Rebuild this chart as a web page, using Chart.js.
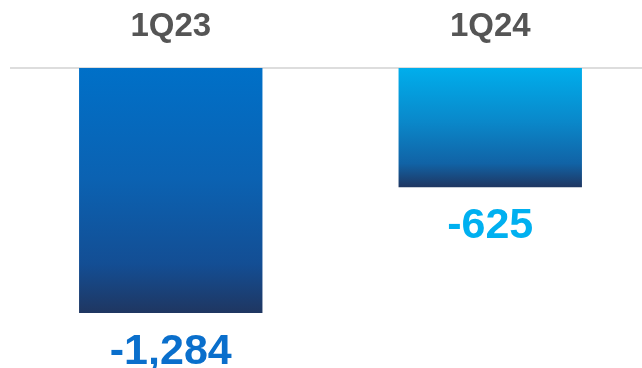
<!DOCTYPE html>
<html>
<head>
<meta charset="utf-8">
<script src="https://cdn.jsdelivr.net/npm/chart.js@4"></script>
<style>
  html, body { margin: 0; padding: 0; background: #fff; overflow: hidden; }
  #wrap { width: 650px; height: 368px; }
</style>
</head>
<body>
<div id="wrap"><canvas id="chart" width="650" height="368"></canvas></div>
<script>
// Data
const quarters = ['1Q23', '1Q24'];
const results = [-1284, -625];
const valueLabels = ['-1,284', '-625'];
const labelColors = ['#0A6FCC', '#00B0F0'];

// gradient stops for each bar, top -> bottom
const barStops = [
    ['#0070C8', '#0B62B2', '#134E94', '#1F3661'],
    ['#00AEEC', '#0A88CA', '#1163A6', '#1F3661']
];

function barGradient(context) {
    const chart = context.chart;
    if (!chart.chartArea) return barStops[context.dataIndex][0];
    const y = chart.scales.y;
    const top = y.getPixelForValue(0);
    const bottom = y.getPixelForValue(context.raw);
    const g = chart.ctx.createLinearGradient(0, top, 0, bottom);
    const stops = barStops[context.dataIndex];
    g.addColorStop(0, stops[0]);
    g.addColorStop(0.45, stops[1]);
    g.addColorStop(0.8, stops[2]);
    g.addColorStop(1, stops[3]);
    return g;
}

// value labels under each bar
const valuePlugin = {
    id: 'valueLabels',
    afterDatasetsDraw(chart) {
        const ctx = chart.ctx;
        const meta = chart.getDatasetMeta(0);
        ctx.save();
        ctx.font = 'bold 43px "Liberation Sans", Arial, sans-serif';
        ctx.textAlign = 'center';
        ctx.textBaseline = 'alphabetic';
        meta.data.forEach((bar, i) => {
            ctx.fillStyle = labelColors[i];
            ctx.fillText(valueLabels[i], bar.x, bar.y + 51);
        });
        ctx.restore();
    }
};

new Chart(document.getElementById('chart'), {
    type: 'bar',
    data: {
        labels: quarters,
        datasets: [{
            data: results,
            backgroundColor: barGradient,
            borderWidth: 0,
            categoryPercentage: 1,
            barPercentage: 0.574
        }]
    },
    options: {
        responsive: false,
        animation: false,
        layout: { padding: { left: 11, right: 0, top: 0, bottom: 0 } },
        plugins: {
            legend: { display: false },
            tooltip: { enabled: false }
        },
        scales: {
            x: {
                position: 'top',
                grid: { display: false, drawTicks: false },
                border: { display: true, color: '#DDDDDD', width: 2 },
                ticks: {
                    color: '#555555',
                    padding: 21,
                    font: { family: '"Liberation Sans", Arial, sans-serif', size: 33, weight: 'bold' }
                },
                afterFit(scale) { scale.height = 68; }
            },
            y: {
                display: false,
                min: -1572,
                max: 0
            }
        }
    },
    plugins: [valuePlugin]
});
</script>
</body>
</html>
